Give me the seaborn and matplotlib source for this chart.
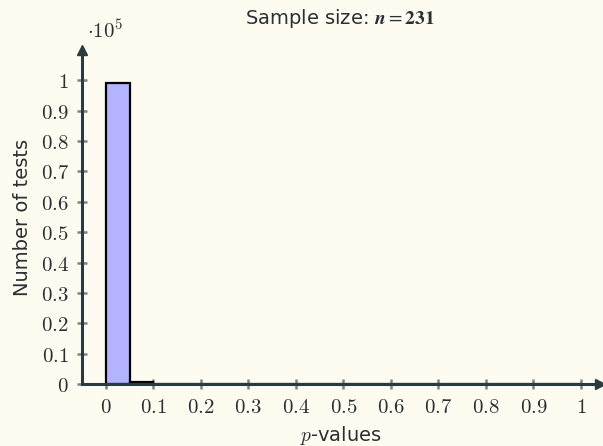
import pandas as pd
import matplotlib
matplotlib.use('Agg')
import matplotlib.pyplot as plt
import seaborn as sns

# histogram of p-values, bins of width 0.05 on [0, 1]
bin_centers = [0.025, 0.075, 0.125, 0.175, 0.225, 0.275, 0.325, 0.375, 0.425, 0.475,
               0.525, 0.575, 0.625, 0.675, 0.725, 0.775, 0.825, 0.875, 0.925, 0.975]
bin_counts = [99000, 600, 120, 0, 0, 0, 0, 0, 0, 0,
              0, 0, 0, 0, 0, 0, 0, 0, 0, 0]
x_ticks = [0, 0.1, 0.2, 0.3, 0.4, 0.5, 0.6, 0.7, 0.8, 0.9, 1]
y_ticks = [0, 0.1, 0.2, 0.3, 0.4, 0.5, 0.6, 0.7, 0.8, 0.9, 1]

bg = "#fefcf0"
axis_col = "#2a3b40"
text_col = "#2a2f33"

sns.set_theme(style="white")
plt.rcParams.update({
    'mathtext.fontset': 'cm',
    'font.family': ['DejaVu Sans'],
})

fig = plt.figure(figsize=(6.03, 4.46), dpi=100, facecolor=bg)
ax = fig.add_axes([0.136, 0.139, 0.859, 0.749], facecolor=bg)

df = pd.DataFrame({'p': bin_centers, 'count': bin_counts})
sns.histplot(data=df, x='p', weights='count', binwidth=0.05, binrange=(0, 1), ax=ax,
             color="#b3b3ff", alpha=1, edgecolor="black", linewidth=1.6)

ax.set_xlim(-0.05, 1.04)
ax.set_ylim(0, 1.1e5)

for s in ['top', 'right']:
    ax.spines[s].set_visible(False)
for s in ['left', 'bottom']:
    ax.spines[s].set_color(axis_col)
    ax.spines[s].set_linewidth(2.2)
    ax.spines[s].set_zorder(5)

# arrow heads
ax.plot(1, 0, ">", color=axis_col, markersize=7, transform=ax.get_yaxis_transform(), clip_on=False, zorder=6)
ax.plot(-0.05, 1, "^", color=axis_col, markersize=7, transform=ax.get_xaxis_transform(), clip_on=False, zorder=6)

ax.set_xticks(x_ticks)
ax.set_xticklabels([f"${t:g}$" for t in x_ticks])
ax.set_yticks([t * 1e5 for t in y_ticks])
ax.set_yticklabels([f"${t:g}$" for t in y_ticks])
ax.tick_params(axis='both', direction='inout', length=7, width=1.8, color="#7f8385",
               labelsize=15, labelcolor=text_col, pad=6, bottom=True, left=True)

ax.set_xlabel(r"$p$-values", fontsize=14, color=text_col, labelpad=5)
ax.set_ylabel("Number of tests", fontsize=14, color=text_col, labelpad=6)
fig.text(0.564, 0.958, r"Sample size: $\mathbfit{n} = \mathbf{231}$", fontsize=14, color=text_col,
         ha='center', va='center', math_fontfamily='stix')
fig.text(0.145, 0.905, r"$\cdot 10^5$", fontsize=15, color=text_col, ha='left', va='bottom')

plt.savefig("out.png", dpi=100, facecolor=bg)
